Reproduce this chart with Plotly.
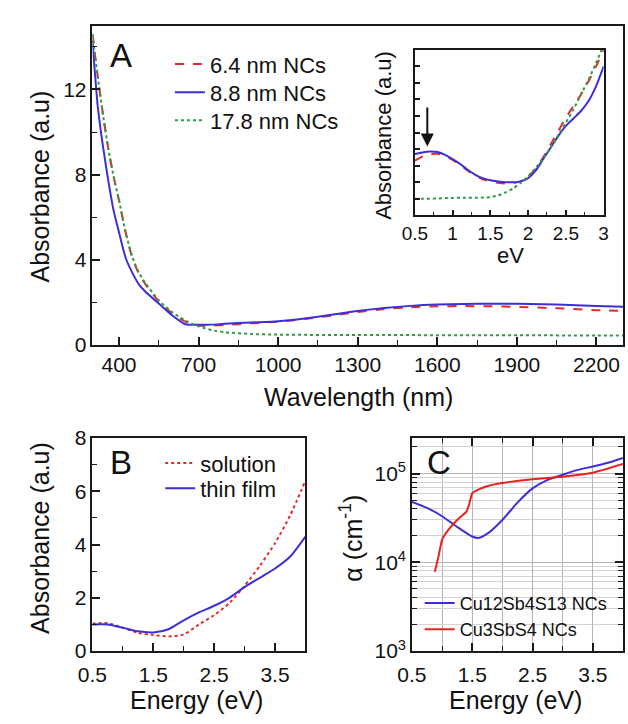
import plotly.graph_objects as go

W, H = 628, 724

# ---------------- Panel A data ----------------
wavelength_nm = [300, 320, 340, 360, 380, 400, 425, 450, 475, 500, 550, 600, 650, 700, 750,
                 800, 900, 1000, 1100, 1200, 1300, 1400, 1500, 1600, 1700, 1800, 1900, 2000,
                 2100, 2200, 2300]
abs_64nm = [14.6, 12.6, 10.8, 9.2, 7.9, 6.8, 5.3, 4.1, 3.35, 2.85, 2.05, 1.5, 1.1, 0.92, 0.92,
            0.94, 1.02, 1.1, 1.22, 1.38, 1.55, 1.69, 1.78, 1.82, 1.83, 1.82, 1.79, 1.75,
            1.7, 1.64, 1.6]
abs_88nm = [14.3, 11.2, 9.3, 7.7, 6.3, 5.3, 4.1, 3.4, 2.85, 2.5, 1.95, 1.4, 0.98, 0.95, 0.96,
            1.0, 1.06, 1.12, 1.25, 1.42, 1.6, 1.74, 1.84, 1.9, 1.93, 1.94, 1.94, 1.92,
            1.88, 1.83, 1.8]
abs_178nm = [14.6, 12.6, 10.8, 9.2, 7.9, 6.8, 5.3, 4.15, 3.4, 2.9, 2.1, 1.55, 1.15, 0.88, 0.7,
             0.6, 0.52, 0.49, 0.48, 0.47, 0.47, 0.47, 0.47, 0.46, 0.46, 0.46, 0.46, 0.46,
             0.45, 0.45, 0.45]
series_names_A = ["6.4 nm NCs", "8.8 nm NCs", "17.8 nm NCs"]
x_ticks_A = [400, 700, 1000, 1300, 1600, 1900, 2200]
y_ticks_A = [0, 4, 8, 12]

# ---------------- Inset data ----------------
inset_ev = [0.5, 0.6, 0.7, 0.8, 0.9, 1.0, 1.1, 1.2, 1.3, 1.4, 1.5, 1.6, 1.7, 1.8, 1.9, 2.0,
            2.1, 2.2, 2.3, 2.4, 2.5, 2.6, 2.7, 2.8, 2.9, 3.0]
inset_64nm = [3.3, 3.55, 3.7, 3.72, 3.6, 3.35, 3.05, 2.7, 2.4, 2.18, 2.05, 1.97, 1.92, 1.95,
              2.05, 2.35, 2.8, 3.5, 4.3, 5.1, 5.9, 6.6, 7.3, 8.1, 9.0, 10.0]
inset_88nm = [3.7, 3.8, 3.86, 3.82, 3.65, 3.4, 3.1, 2.75, 2.45, 2.25, 2.12, 2.05, 2.0, 2.0,
              2.05, 2.25, 2.7, 3.4, 4.1, 4.8, 5.4, 5.85, 6.3, 6.9, 7.8, 9.0]
inset_178nm = [1.0, 1.0, 1.0, 1.02, 1.04, 1.05, 1.06, 1.06, 1.06, 1.07, 1.1, 1.2, 1.38, 1.62,
               1.95, 2.35, 2.85, 3.45, 4.1, 4.85, 5.6, 6.4, 7.3, 8.2, 9.2, 10.3]
inset_x_ticks = [0.5, 1, 1.5, 2, 2.5, 3]
inset_arrow_ev = 0.665

# ---------------- Panel B data ----------------
energy_B = [0.5, 0.75, 1.0, 1.25, 1.5, 1.75, 2.0, 2.25, 2.5, 2.75, 3.0, 3.25, 3.5, 3.75, 4.0]
abs_solution = [1.03, 1.05, 0.87, 0.68, 0.6, 0.55, 0.62, 1.0, 1.35, 1.8, 2.45, 3.2, 4.05, 5.1, 6.4]
abs_thinfilm = [1.0, 1.0, 0.88, 0.74, 0.7, 0.82, 1.15, 1.45, 1.7, 2.0, 2.4, 2.75, 3.1, 3.55, 4.3]
series_names_B = ["solution", "thin film"]
x_ticks_B = [0.5, 1.5, 2.5, 3.5]
y_ticks_B = [0, 2, 4, 6, 8]

# ---------------- Panel C data ----------------
energy_C_cu12 = [0.5, 0.75, 1.0, 1.25, 1.5, 1.6, 1.75, 2.0, 2.25, 2.5, 2.75, 3.0, 3.25, 3.5, 3.75, 4.0]
alpha_cu12 = [48000, 41000, 33000, 25000, 19500, 18800, 21000, 30000, 47000, 68000, 85000,
              97000, 110000, 120000, 132000, 150000]
energy_C_cu3 = [0.88, 0.95, 1.0, 1.1, 1.25, 1.4, 1.45, 1.5, 1.6, 1.75, 2.0, 2.5, 3.0, 3.5, 4.0]
alpha_cu3 = [7800, 12500, 18000, 23000, 30000, 37000, 45000, 60000, 66000, 72000, 78000,
             86000, 92000, 102000, 128000]
series_names_C = ["Cu12Sb4S13 NCs", "Cu3SbS4 NCs"]
y_ticks_C = [1e3, 1e4, 1e5]
y_ticktext_C = ["10<sup>3</sup>", "10<sup>4</sup>", "10<sup>5</sup>"]

RED = "#e42a2a"
BLUE = "#3d2fd8"
GREEN = "#2f9a45"
AX = "#1a1a1a"
FONT = "Liberation Sans, Arial, sans-serif"

fig = go.Figure()

# Panel A (one legend box per entry so row spacing can follow the reference)
legends_A = ["legend", "legend4", "legend5"]
for name, ys, col, dash, lg in zip(series_names_A, [abs_64nm, abs_88nm, abs_178nm],
                                   [RED, BLUE, GREEN], ["dash", "solid", "dot"], legends_A):
    fig.add_trace(go.Scatter(x=wavelength_nm, y=ys, mode="lines", name=name,
                             line=dict(color=col, width=2, dash=dash, shape="spline", smoothing=0.6),
                             xaxis="x", yaxis="y", legend=lg))
# Inset
for ys, col, dash in zip([inset_64nm, inset_88nm, inset_178nm], [RED, BLUE, GREEN],
                         ["dash", "solid", "dot"]):
    fig.add_trace(go.Scatter(x=inset_ev, y=ys, mode="lines", showlegend=False,
                             line=dict(color=col, width=2, dash=dash, shape="spline", smoothing=0.6),
                             xaxis="x2", yaxis="y2", cliponaxis=True))
# Panel B
legends_B = ["legend2", "legend6"]
for name, ys, col, dash, lg in zip(series_names_B, [abs_solution, abs_thinfilm], [RED, BLUE],
                                   ["dot", "solid"], legends_B):
    fig.add_trace(go.Scatter(x=energy_B, y=ys, mode="lines", name=name,
                             line=dict(color=col, width=2, dash=dash, shape="spline", smoothing=0.6),
                             xaxis="x3", yaxis="y3", legend=lg))
# Panel C
fig.add_trace(go.Scatter(x=energy_C_cu12, y=alpha_cu12, mode="lines", name=series_names_C[0],
                         line=dict(color=BLUE, width=2, shape="spline", smoothing=0.6),
                         xaxis="x4", yaxis="y4", legend="legend3"))
fig.add_trace(go.Scatter(x=energy_C_cu3, y=alpha_cu3, mode="lines", name=series_names_C[1],
                         line=dict(color="#e8231f", width=2, shape="spline", smoothing=0.4),
                         xaxis="x4", yaxis="y4", legend="legend3"))


def px(x, y):
    return x / W, 1 - y / H


def axis_common(**kw):
    d = dict(showline=True, linecolor=AX, linewidth=1.5, mirror=True, ticks="inside",
             ticklen=8, tickwidth=1.5, tickcolor=AX, showgrid=False, zeroline=False,
             tickfont=dict(size=21, color="#111", family=FONT))
    d.update(kw)
    return d


def leg(x_px, yc_px, size):
    return dict(x=x_px / W, y=1 - yc_px / H, xanchor="left", yanchor="middle",
                bgcolor="rgba(0,0,0,0)", font=dict(size=size, family=FONT, color="#111"),
                traceorder="normal")


minor_ticks = dict(ticks="inside", ticklen=5, tickwidth=1.2, tickcolor=AX)

fig.update_layout(
    width=W, height=H, margin=dict(l=0, r=0, t=0, b=0),
    paper_bgcolor="white", plot_bgcolor="white",
    font=dict(family=FONT, color="#111"),
    xaxis=axis_common(domain=[80 / W, 1.0], range=[300, 2300], anchor="y",
                      tickvals=x_ticks_A, minor=dict(dtick=150, tick0=250, **minor_ticks)),
    yaxis=axis_common(domain=[1 - 344 / H, 1 - 14 / H], range=[0, 15], anchor="x",
                      tickvals=y_ticks_A, minor=dict(dtick=2, tick0=0, **minor_ticks)),
    xaxis2=axis_common(domain=[413 / W, 608 / W], range=[0.5, 3.0], anchor="y2",
                       tickvals=inset_x_ticks, ticklen=6, tickfont=dict(size=19, color="#111", family=FONT),
                       minor=dict(dtick=0.25, tick0=0, ticks="inside", ticklen=4, tickwidth=1.2, tickcolor=AX)),
    yaxis2=axis_common(domain=[1 - 210 / H, 1 - 39 / H], range=[0, 10], anchor="x2",
                       dtick=1, showticklabels=False, ticklen=5),
    xaxis3=axis_common(domain=[80 / W, 300 / W], range=[0.5, 4.0], anchor="y3", ticklabelstandoff=4,
                       tickvals=x_ticks_B, minor=dict(dtick=0.5, tick0=0, **minor_ticks)),
    yaxis3=axis_common(domain=[1 - 660 / H, 1 - 440 / H], range=[0, 8], anchor="x3",
                       tickvals=y_ticks_B, minor=dict(dtick=1, tick0=0, **minor_ticks)),
    xaxis4=axis_common(domain=[410 / W, 1.0], range=[0.5, 4.0], anchor="y4", mirror="allticks",
                       ticklabelstandoff=4,
                       tickvals=x_ticks_B, showgrid=True, gridcolor="#b5b5b5", gridwidth=1,
                       minor=dict(dtick=0.5, tick0=0, showgrid=True, gridcolor="#b5b5b5", **minor_ticks)),
    yaxis4=axis_common(domain=[1 - 660 / H, 1 - 440 / H], type="log", range=[3, 5.4], anchor="x4",
                       mirror="allticks", tickvals=y_ticks_C, ticktext=y_ticktext_C,
                       showgrid=True, gridcolor="#b5b5b5", gridwidth=1,
                       minor=dict(tickvals=[m * 10 ** e for e in (3, 4, 5) for m in range(2, 10)],
                                  showgrid=True, gridcolor="#d3d3d3", gridwidth=1, **minor_ticks)),
    legend=leg(160, 54, 22),
    legend4=leg(160, 83, 22),
    legend5=leg(160, 112, 22),
    legend2=leg(150, 466, 22),
    legend6=leg(150, 492, 22),
    legend3=leg(418, 624, 18),
)

annotations = []


def label(text, x, y, size, angle=0):
    ax_, ay_ = px(x, y)
    annotations.append(dict(text=text, x=ax_, y=ay_, xref="paper", yref="paper", showarrow=False,
                            xanchor="center", yanchor="middle", textangle=angle,
                            font=dict(size=size, family=FONT, color="#111")))


label("Absorbance (a.u)", 26, 180, 25, -90)
label("Wavelength (nm)", 355, 398, 25)
label("Absorbance (a.u)", 381, 127, 22, -90)
label("eV", 512, 251, 22)
label("Absorbance (a.u)", 26, 543, 25, -90)
label("Energy (eV)", 187, 711, 25)
label("α (cm<sup>-1</sup>)", 347, 543, 25, -90)
label("Energy (eV)", 517, 711, 25)
label("A", 110, 45, 33)
label("B", 110, 465, 33)
label("C", 438, 465, 33)

annotations.append(dict(x=inset_arrow_ev, y=4.15, ax=inset_arrow_ev, ay=6.6, xref="x2", yref="y2",
                        axref="x2", ayref="y2", showarrow=True, arrowhead=2, arrowsize=1.3,
                        arrowwidth=2, arrowcolor="#111", text=""))
fig.update_layout(annotations=annotations)

fig.write_html("out.html")
